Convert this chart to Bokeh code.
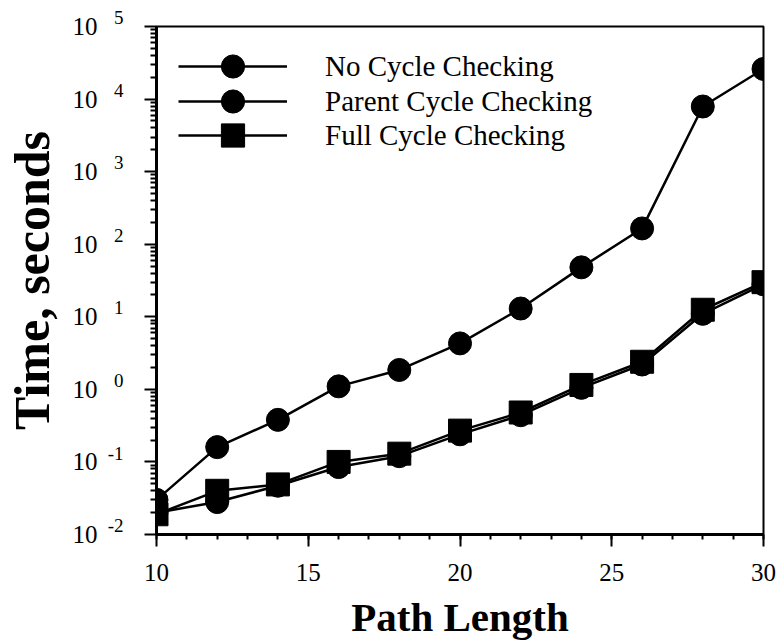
from bokeh.plotting import figure
from bokeh.models import (FixedTicker, Legend, LegendItem, LogAxis,
                          CustomJSTickFormatter, Range1d)
from bokeh.embed import file_html
from bokeh.resources import INLINE

# ---- data ----
path_length = [10, 12, 14, 16, 18, 20, 22, 24, 26, 28, 30]
no_cycle = [0.03, 0.16, 0.38, 1.1, 1.85, 4.3, 13, 48, 165, 7900, 26000]
parent_cycle = [0.02, 0.028, 0.047, 0.085, 0.12, 0.24, 0.44, 1.05, 2.2, 11, 28]
full_cycle = [0.019, 0.04, 0.049, 0.1, 0.13, 0.27, 0.48, 1.15, 2.4, 12.5, 30]

series_names = ["No Cycle Checking", "Parent Cycle Checking", "Full Cycle Checking"]
x_ticks = [10, 15, 20, 25, 30]
x_minor = list(range(10, 31))
y_exponents = [-2, -1, 0, 1, 2, 3, 4, 5]
y_major = [10.0 ** e for e in y_exponents]
y_minor = [m * 10.0 ** e for e in y_exponents[:-1] for m in range(2, 10)]
y_base_labels = ["10"] * len(y_exponents)
# exponent on the first line; a blank second line lifts it above the tick
y_exp_labels = [str(e) + "\n\u2007" for e in y_exponents]

FONT = "Liberation Serif"

LOOKUP = """
let best = -1, bd = 1e9;
for (let i = 0; i < tick_values.length; i++) {
  const d = Math.abs(Math.log10(tick_values[i]) - Math.log10(tick));
  if (d < bd) { bd = d; best = i; }
}
return (best >= 0 && bd < 1e-6) ? tick_labels[best] : "";
"""

p = figure(width=782, height=642,
           x_range=Range1d(x_ticks[0], x_ticks[-1]),
           y_range=Range1d(y_major[0], y_major[-1]),
           y_axis_type="log", output_backend="svg", toolbar_location=None,
           min_border_left=156, min_border_right=19, min_border_top=26,
           min_border_bottom=107)
p.grid.visible = False
p.outline_line_color = "black"
p.outline_line_width = 2
p.background_fill_color = "white"
p.border_fill_color = "white"

# x axis
xa = p.xaxis[0]
xa.ticker = FixedTicker(ticks=x_ticks, minor_ticks=x_minor)
xa.major_label_text_font = FONT
xa.major_label_text_font_size = "25px"
xa.major_label_text_line_height = 1.0
xa.major_label_text_color = "black"
xa.major_label_standoff = 17
xa.major_tick_out = 12
xa.major_tick_in = 0
xa.minor_tick_out = 5
xa.minor_tick_in = 0
xa.axis_line_width = 3
xa.major_tick_line_width = 2
xa.minor_tick_line_width = 2
xa.axis_line_color = "black"
xa.axis_label = "Path Length"
xa.axis_label_text_font = FONT
xa.axis_label_text_font_style = "bold"
xa.axis_label_text_font_size = "41px"
xa.axis_label_text_line_height = 1.0
xa.axis_label_text_color = "black"
xa.axis_label_standoff = 10

# y axis (inner): ticks and exponents
ya = p.yaxis[0]
ya.ticker = FixedTicker(ticks=y_major, minor_ticks=y_minor)
ya.formatter = CustomJSTickFormatter(args=dict(tick_values=y_major, tick_labels=y_exp_labels),
                                     code=LOOKUP)
ya.major_label_text_font = FONT
ya.major_label_text_font_size = "19px"
ya.major_label_text_line_height = 0.85
ya.major_label_text_color = "black"
ya.major_label_standoff = 21
ya.major_tick_out = 12
ya.major_tick_in = 0
ya.minor_tick_out = 6
ya.minor_tick_in = 0
ya.axis_line_width = 3
ya.major_tick_line_width = 2
ya.minor_tick_line_width = 2
ya.axis_line_color = "black"

# y axis (outer): the "10" bases and the axis title
yb = LogAxis(ticker=FixedTicker(ticks=y_major),
             formatter=CustomJSTickFormatter(args=dict(tick_values=y_major, tick_labels=y_base_labels),
                                             code=LOOKUP))
yb.axis_line_alpha = 0
yb.major_tick_out = 0
yb.major_tick_in = 0
yb.minor_tick_out = 0
yb.minor_tick_in = 0
yb.major_label_standoff = 7
yb.major_label_text_font = FONT
yb.major_label_text_font_size = "25px"
yb.major_label_text_color = "black"
yb.axis_label = "Time, seconds"
yb.axis_label_text_font = FONT
yb.axis_label_text_font_style = "bold"
yb.axis_label_text_font_size = "50px"
yb.axis_label_text_line_height = 1.0
yb.axis_label_text_color = "black"
yb.axis_label_standoff = 10
p.add_layout(yb, "left")

# series
LW = 2.5
l1 = p.line(path_length, no_cycle, line_width=LW, line_color="black")
m1 = p.scatter(path_length, no_cycle, marker="circle", size=23, color="black")
l2 = p.line(path_length, parent_cycle, line_width=LW, line_color="black")
m2 = p.scatter(path_length, parent_cycle, marker="circle", size=23, color="black")
l3 = p.line(path_length, full_cycle, line_width=LW, line_color="black")
m3 = p.scatter(path_length, full_cycle, marker="square", size=23, color="black")

# one legend per row so rows can sit closer than the marker box
legend_rows = [(series_names[0], [l1, m1], 439),
               (series_names[1], [l2, m2], 404),
               (series_names[2], [l3, m3], 370)]
for name, rends, ybot in legend_rows:
    lg = Legend(items=[LegendItem(label=name, renderers=rends)],
                location=(22, ybot), glyph_width=109, glyph_height=58,
                label_standoff=38, padding=0, margin=0, border_line_alpha=0,
                background_fill_alpha=0, label_text_font=FONT,
                label_text_font_size="29px", label_text_color="black")
    p.add_layout(lg)

open("out.html", "w").write(file_html(p, INLINE))
